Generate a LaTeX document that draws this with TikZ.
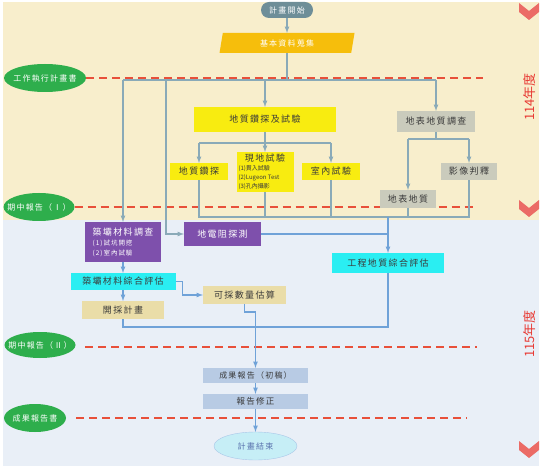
\documentclass[tikz,border=0pt]{standalone}
\usepackage{fontspec}
\setmainfont{Noto Sans CJK TC}[LetterSpace=15]
\newfontfamily\plainfont{Noto Sans CJK TC}
\usetikzlibrary{shapes.geometric,calc}

\definecolor{bgtop}{HTML}{F8EECC}
\definecolor{bgbot}{HTML}{E9EFF7}
\definecolor{linkgray}{HTML}{8AAAB8}
\definecolor{linkblue}{HTML}{6FA2D8}
\definecolor{dashred}{HTML}{E8503A}
\definecolor{milegreen}{HTML}{2EAE4C}
\definecolor{startgray}{HTML}{6E8E98}
\definecolor{infoorange}{HTML}{F6BE0C}
\definecolor{drillyellow}{HTML}{F8EC10}
\definecolor{surfgray}{HTML}{CACBBC}
\definecolor{matpurple}{HTML}{7E50AC}
\definecolor{evalcyan}{HTML}{2AEEF2}
\definecolor{plantan}{HTML}{EADDA8}
\definecolor{reportblue}{HTML}{B8CBE4}
\definecolor{endcyan}{HTML}{C6EEF6}
\definecolor{yearred}{HTML}{E83A34}
\definecolor{chevred}{HTML}{EB6B66}
\definecolor{textdark}{HTML}{3A3A3A}

\newcommand{\milelabel}[1]{\makebox[36pt]{#1}}

\begin{document}
\begin{tikzpicture}[x=1pt,y=-1pt,every node/.style={outer sep=0pt,inner sep=0pt}]
\tikzstyle{link}=[linkgray,line width=1.2pt]
\tikzstyle{flow}=[linkblue,line width=1.2pt]
\tikzstyle{deadline}=[dashred,line width=1.2pt,dash pattern=on 8pt off 5pt]
\tikzstyle{stepbox}=[rectangle,minimum height=17pt,text=textdark,font=\fontsize{9}{10}\selectfont]
\tikzstyle{milestone}=[ellipse,fill=milegreen,text=white,minimum height=28pt,font=\fontsize{8}{9}\selectfont]
\tikzstyle{chevron}=[fill=chevred]

\useasboundingbox (0,0) rectangle (546,470);
\fill[bgtop] (3,2) rectangle (539,220);
\fill[bgbot] (3,220) rectangle (539,466);

% year markers
\foreach \y in {3,200,441}
  \fill[chevron] (519,\y) -- ++(10,8) -- ++(10,-8) -- ++(0,9) -- ++(-10,8) -- ++(-10,-8) -- cycle;
\node (year114) at (530,97) [rotate=90,text=yearred,font=\plainfont\fontsize{13}{14}\selectfont] {114年度};
\node (year115) at (530,334) [rotate=90,text=yearred,font=\plainfont\fontsize{13}{14}\selectfont] {115年度};

% milestones
\node (plan) at (45,78) [milestone,minimum width=82pt] {\milelabel{工作執行計畫書}};
\node (mid1) at (39,207) [milestone,minimum width=71pt] {\milelabel{期中報告（Ⅰ）}};
\node (mid2) at (40,345) [milestone,minimum width=71pt,minimum height=26pt] {\milelabel{期中報告（Ⅱ）}};
\node (final) at (35,418) [milestone,minimum width=62pt] {\milelabel{成果報告書}};
\coordinate (planend) at (483,78);
\coordinate (mid1end) at (474,207);
\coordinate (mid2start) at (85,347);
\coordinate (mid2end) at (477,347);
\coordinate (finalstart) at (76,418);
\coordinate (finalend) at (467,418);
\draw[deadline] (plan.east) -- (planend);
\draw[deadline] (mid1.east) -- (mid1end);
\draw[deadline] (mid2start) -- (mid2end);
\draw[deadline] (finalstart) -- (finalend);

% 114
\node (start) at (287,10) [rounded corners=8pt,fill=startgray,text=white,minimum width=52pt,minimum height=16pt,font=\fontsize{8}{9}\selectfont] {計畫開始};
\node (info) at (287,43) [trapezium,trapezium left angle=66,trapezium right angle=114,trapezium stretches body,fill=infoorange,text=white,minimum width=135pt,minimum height=20pt,font=\fontsize{8}{9}\selectfont] {基本資料蒐集};
\node (drill) at (265,119.5) [stepbox,fill=drillyellow,minimum width=142pt,minimum height=25pt] {地質鑽探及試驗};
\node (survey) at (436,121.5) [stepbox,fill=surfgray,minimum width=78pt,minimum height=21pt] {地表地質調查};
\node (bore) at (199,171.5) [stepbox,fill=drillyellow,minimum width=58pt] {地質鑽探};
\node (insitu) at (265,172) [stepbox,fill=drillyellow,minimum width=57pt,minimum height=40pt,align=left,font=\plainfont\fontsize{6}{9}\selectfont]
  {\makebox[53pt]{\normalfont\fontsize{9}{10}\selectfont 現地試驗}\\(1)貫入試驗\\(2)Lugeon Test\\(3)孔內攝影};
\node (lab) at (331,171.5) [stepbox,fill=drillyellow,minimum width=58pt] {室內試驗};
\node (image) at (469,171.5) [stepbox,fill=surfgray,minimum width=56pt] {影像判釋};
\node (outcrop) at (408,199) [stepbox,fill=surfgray,minimum width=56pt,minimum height=18pt] {地表地質};

% 115
\node (material) at (123,242) [stepbox,fill=matpurple,text=white,minimum width=76pt,minimum height=40pt,align=left,font=\fontsize{6.5}{10}\selectfont]
  {\fontsize{9}{10}\selectfont 築壩材料調查\\(1)試坑開挖\\(2)室內試驗};
\node (resist) at (222.5,234) [stepbox,fill=matpurple,text=white,minimum width=77pt,minimum height=24pt] {地電阻探測};
\node (geoeval) at (388,263) [stepbox,fill=evalcyan,minimum width=112pt,minimum height=20pt] {工程地質綜合評估};
\node (mateval) at (123,281.5) [stepbox,fill=evalcyan,minimum width=105pt] {築壩材料綜合評估};
\node (volume) at (244.5,295) [stepbox,fill=plantan,minimum width=83pt,minimum height=18pt] {可採數量估算};
\node (quarry) at (123,310) [stepbox,fill=plantan,minimum width=82pt,minimum height=18pt] {開採計畫};
\node (draft) at (255.5,375.5) [stepbox,fill=reportblue,minimum width=105pt,minimum height=15pt,font=\fontsize{8}{9}\selectfont] {成果報告（初稿）};
\node (revise) at (255.5,401.5) [stepbox,fill=reportblue,minimum width=105pt,minimum height=15pt,font=\fontsize{8.5}{9}\selectfont] {報告修正};
\node (finish) at (255.5,446) [ellipse,draw=linkblue!60,fill=endcyan,text=startgray!80!blue,minimum width=83pt,minimum height=28pt,font=\fontsize{8}{9}\selectfont] {計畫結束};

% connectors
\coordinate (barL) at (123,80);
\coordinate (barG) at (166,80);
\coordinate (barR) at (436,80);
\coordinate (drillfork) at (265,143);
\coordinate (surveyfork) at (436,139);
\coordinate (collect) at (388,217);

\draw[link,-latex] (start) -- (info);
\draw[link] (info.south) -- (info.south |- barL);
\draw[link] (barL) -- (barR);
\draw[link,-latex] (barL) -- (material.north);
\draw[link,-latex] (barG) |- (resist.west);
\draw[link,-latex] (drill.north |- barL) -- (drill.north);
\draw[link,-latex] (barR) -- (survey.north);

\draw[link] (drill.south) -- (drillfork);
\draw[link] (bore.north |- drillfork) -- (lab.north |- drillfork);
\draw[link,-latex] (bore.north |- drillfork) -- (bore.north);
\draw[link,-latex] (drillfork) -- (insitu.north);
\draw[link,-latex] (lab.north |- drillfork) -- (lab.north);

\draw[link] (survey.south) -- (surveyfork);
\draw[link] (outcrop.north |- surveyfork) -- (image.north |- surveyfork);
\draw[link,-latex] (outcrop.north |- surveyfork) -- (outcrop.north);
\draw[link,-latex] (image.north |- surveyfork) -- (image.north);

\draw[link] (bore.south) -- (bore.south |- collect) -- (image.south |- collect) -- (image.south);
\draw[link] (insitu.south) -- (insitu.south |- collect);
\draw[link] (lab.south) -- (lab.south |- collect);
\draw[link] (outcrop.south) -- (outcrop.south |- collect);

\draw[flow,-latex] (collect) -- (geoeval.north);
\draw[flow] (resist.east) -- (resist.east -| collect);
\draw[flow,-latex] (material.south) -- (mateval.north);
\draw[flow,-latex] (mateval.east) -- ++(7,0) |- (volume.west);
\draw[flow,-latex] (mateval.south) -- (quarry.north);
\draw[flow] (quarry.south) -- ++(0,8) -| (geoeval.south);
\draw[flow,-latex] (volume.south) -- ++(0,8) -| (draft.north);
\draw[flow,-latex] (draft) -- (revise);
\draw[flow,-latex] (revise) -- (finish);
\end{tikzpicture}
\end{document}
